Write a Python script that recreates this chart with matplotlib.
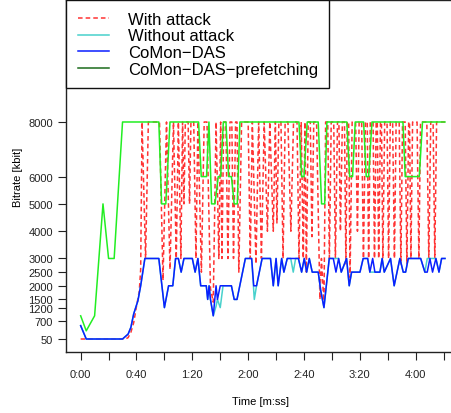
import matplotlib
matplotlib.use('Agg')
import matplotlib.pyplot as plt
from matplotlib.lines import Line2D

plt.rcParams['font.family'] = ['Liberation Sans', 'DejaVu Sans']

# ---------------- data (time in seconds, bitrate in kbit) ----------------
series_names = ['With attack', 'Without attack', 'CoMon\u2212DAS', 'CoMon\u2212DAS\u2212prefetching']

ytick_values = [50, 700, 1200, 1500, 2000, 2500, 3000, 4000, 5000, 6000, 8000]
xtick_seconds = list(range(0, 261, 20))

green_t = [0, 4, 10, 16, 20, 24, 30, 56, 58, 61, 64, 84.5, 86.4, 90.2, 91.9, 93.8, 96.2,
           98.6, 100.3, 102.2, 104.1, 106, 108, 110, 112.2, 114.1, 156.4, 158.3, 160,
           162.3, 170.2, 172.6, 174.8, 176.4, 190.7, 192.7, 194.8, 196.7, 202.7, 204.6,
           206.3, 208.7, 230.9, 232.5, 242.6, 244.9, 261]
green_v = [900, 350, 900, 5000, 3000, 3000, 8000, 8000, 5000, 5000, 8000, 8000, 6000, 6000,
           8000, 5000, 5000, 6000, 6000, 8000, 8000, 6000, 6000, 5000, 5000, 8000, 8000,
           6000, 6000, 8000, 8000, 5000, 5000, 8000, 8000, 6000, 6000, 8000, 8000, 6000,
           6000, 8000, 8000, 6000, 6000, 8000, 8000]

blue_t = [0, 4, 30, 34, 36, 38, 41, 43, 46, 56, 60, 63, 66, 68, 70, 72, 74, 80, 82, 84,
          86, 90, 91, 92, 93, 95, 97, 98, 100, 108, 110, 112, 114, 118, 122.5, 124, 126,
          130, 136, 138, 140, 141.5, 144, 145.6, 148, 156, 158.3, 160.2, 161.9, 163.8,
          165.9, 170.2, 171.9, 174.3, 178.1, 181, 182.9, 184.8, 186.7, 190.5, 192.4,
          194.1, 200.1, 202.4, 205.6, 207.2, 209.2, 210.8, 214.4, 216, 217.5, 222, 224.6,
          228.7, 231.1, 232.8, 234.7, 243.6, 246.6, 248.3, 250.2, 252.1, 254.5, 256.7,
          258.6, 261]
blue_v = [540, 50, 50, 230, 480, 970, 1450, 2000, 3000, 3000, 1200, 2000, 2000, 3000, 3000,
          2500, 3000, 3000, 2500, 3000, 2000, 2000, 1500, 2000, 1500, 900, 2000, 1500, 2000,
          2000, 1500, 1500, 2000, 3000, 3000, 2000, 2000, 3000, 3000, 2000, 3000, 2000, 3000,
          2500, 3000, 3000, 2500, 3000, 2500, 3000, 2500, 2500, 1850, 1200, 3000, 3000, 2500,
          3000, 2500, 3000, 2000, 2500, 2500, 3000, 3000, 2500, 3000, 2500, 2500, 3000, 2500,
          3000, 2000, 3000, 2500, 2500, 3000, 3000, 2500, 2500, 3000, 2500, 3000, 2500, 3000,
          3000]

cyan_t = [0, 4, 30, 34, 36, 38, 41, 43, 46, 56, 60, 63, 66, 68, 70, 72, 74, 80, 82, 84,
          86, 90, 91, 92, 93, 95, 97, 98, 100, 102, 108, 110, 112, 114, 118, 122.5, 124.4,
          126, 130, 136, 138, 140, 141.5, 144, 145.6, 148, 150.5, 152.3, 154, 156, 158.3,
          160.2, 161.9, 163.8, 165.9, 170.2, 171.9, 174.3, 178.1, 184.8, 186.7, 190.5,
          192.4, 194.1, 200.1, 202.4, 205.6, 207.2, 214.4, 216, 217.5, 222, 224.6, 228.7,
          231.1, 232.8, 234.7, 243.6, 246.6, 248.3, 252.1, 254.5, 256.7, 258.6, 261]
cyan_v = [540, 50, 50, 230, 480, 970, 1450, 2000, 3000, 3000, 1200, 2000, 2000, 3000, 3000,
          2500, 3000, 3000, 2500, 3000, 2000, 2000, 1500, 2000, 1500, 900, 1250, 1500, 1200,
          2000, 2000, 1500, 1500, 2000, 3000, 3000, 1500, 2000, 3000, 3000, 2000, 3000, 2000,
          3000, 2500, 3000, 3000, 2500, 3000, 3000, 2500, 3000, 2500, 3000, 2500, 2500, 1850,
          1200, 3000, 3000, 2500, 3000, 2000, 2500, 2500, 3000, 3000, 2500, 2500, 3000, 2500,
          3000, 2000, 3000, 2500, 2500, 3000, 3000, 2500, 3000, 3000, 3000, 2500, 3000, 3000]

red_t = [0, 32, 34, 36, 38, 40, 42, 43, 44, 46.5, 48.5, 56.5, 59, 61.5, 64, 66.5, 68.5, 70,
         71.8, 73, 74, 75, 77, 78, 79, 81, 82.6, 84, 86.5, 88.5, 90.5, 93, 95, 97, 99,
         100.3, 101.2, 102.5, 104, 105.5, 107, 108.3, 109.5, 111, 112, 113.3, 115.3, 120,
         121.5, 123, 125.6, 127.5, 129.5, 131.5, 133.8, 135.5, 138, 139.5, 140.6, 142,
         143.5, 145, 146.5, 148.5, 150.6, 152.5, 155, 156.4, 158, 159.5, 160.7, 161.7, 163,
         164.5, 165.7, 167, 169, 171.4, 172.5, 174.3, 175.5, 177, 178.2, 179.5, 181.3,
         182.5, 184, 185, 186.1, 187.5, 189, 190, 191, 192, 193, 194.5, 197, 198.3, 199.5,
         201.3, 202.6, 204, 205.3, 206.3, 207.5, 209.5, 210.5, 211.7, 212.5, 213.5, 214.8,
         215.5, 216.5, 217.8, 219.5, 220.6, 221.8, 223.5, 224.8, 226, 228.2, 229.4, 230.6,
         232.5, 233.7, 235, 235.6, 236.6, 237.8, 241, 242.3, 243.5, 248, 249.4, 250.8,
         252.5, 253.7, 255, 261]
red_v = [50, 50, 100, 300, 650, 1250, 1800, 2600, 8000, 3000, 8000, 8000, 2200, 8000, 2600,
         8000, 3000, 8000, 3000, 8000, 5000, 8000, 8000, 5000, 8000, 8000, 3000, 8000, 2500,
         8000, 8000, 1900, 1400, 8000, 3000, 8000, 3000, 8000, 8000, 3000, 8000, 8000, 3000,
         8000, 8000, 2500, 8000, 8000, 3000, 8000, 2800, 8000, 3000, 8000, 4000, 8000, 4000,
         8000, 4300, 8000, 8000, 3000, 8000, 8000, 4000, 8000, 8000, 3000, 8000, 3000, 8000,
         2500, 8000, 8000, 3800, 8000, 8000, 1500, 3000, 1300, 8000, 8000, 3000, 8000, 8000,
         3000, 8000, 8000, 4000, 8000, 8000, 2800, 8000, 8000, 2300, 8000, 8000, 4000, 8000,
         8000, 3000, 8000, 8000, 3000, 8000, 8000, 3000, 8000, 8000, 3000, 8000, 8000, 3000,
         8000, 8000, 3000, 8000, 8000, 3000, 8000, 8000, 2800, 8000, 8000, 2800, 8000, 8000,
         3000, 8000, 8000, 3000, 8000, 8000, 3000, 8000, 8000, 3000, 8000, 8000]

# ---------------- figure ----------------
W, H = 452, 414
fig = plt.figure(figsize=(W / 100, H / 100), dpi=100)
ax = fig.add_axes([66 / W, 61 / H, (456 - 66) / W, 352 / H])

red_col = (1.0, 0.0, 0.0, 0.8)
cyan_col = '#48D1CC'
blue_col = '#0A1EFF'
green_col = '#22EE22'

ax.plot(red_t, red_v, color=red_col, lw=1.1, dashes=(3, 2))
ax.plot(cyan_t, cyan_v, color=cyan_col, lw=1.1)
ax.plot(blue_t, blue_v, color=blue_col, lw=1.1)
ax.plot(green_t, green_v, color=green_col, lw=1.1)

ax.set_xlim(-10.5, 268.9)
ax.set_ylim(-426, 12469)

ax.set_xticks(xtick_seconds)
ax.set_xticklabels(['%d:%02d' % (s // 60, s % 60) if s % 40 == 0 else '' for s in xtick_seconds])
ax.set_yticks(ytick_values)
ax.set_yticklabels([str(v) for v in ytick_values])
ax.tick_params(axis='both', length=5.5, width=0.8, labelsize=8, direction='out', colors='#222222')
ax.tick_params(axis='x', pad=7)
ax.tick_params(axis='y', pad=4)
for s in ax.spines.values():
    s.set_linewidth(1.0)
    s.set_color('#222222')

ax.set_xlabel('Time [m:ss]', fontsize=8)
ax.xaxis.label.set_va('center')
ax.xaxis.set_label_coords(0.5, (353 - 402) / 352)
ax.set_ylabel('Bitrate [kbit]', fontsize=8)
ax.yaxis.label.set_va('center')
ax.yaxis.set_label_coords((18 - 66) / 390, 0.5)

handles = [
    Line2D([], [], color=red_col, lw=1.1, dashes=(3, 2)),
    Line2D([], [], color=cyan_col, lw=1.1),
    Line2D([], [], color=blue_col, lw=1.1),
    Line2D([], [], color='#1B6B1B', lw=1.1),
]
leg = ax.legend(handles, series_names, loc='upper left', bbox_to_anchor=(0, 1),
                borderaxespad=0, fontsize=12, frameon=True, fancybox=False,
                framealpha=1, edgecolor='#111111', borderpad=0.7, labelspacing=0.1,
                handlelength=1.9, handletextpad=1.1)
leg.get_frame().set_linewidth(1.0)

fig.savefig('out.png', dpi=100)
